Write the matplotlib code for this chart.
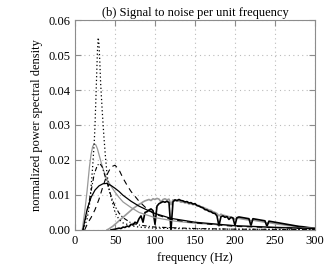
import matplotlib
matplotlib.use('Agg')
import matplotlib.pyplot as plt

plt.rcParams.update({'font.family': ['Liberation Serif', 'DejaVu Serif'], 'font.size': 9,
                     'figure.facecolor': 'white', 'axes.facecolor': 'white'})
FRAME = '#8c8c8c'
GREY = '#999999'

# smooth model spectra
dot_f = [10, 15, 18, 20, 22, 24, 25, 26, 27, 28, 29, 30, 31, 32, 34, 36, 38, 40, 43, 46,
         50, 55, 60, 70, 80, 100, 150, 200, 300]
dot_v = [0, 0.003, 0.007, 0.012, 0.018, 0.025, 0.030, 0.037, 0.044, 0.051, 0.055, 0.053,
         0.048, 0.042, 0.034, 0.027, 0.021, 0.016, 0.011, 0.0085, 0.005, 0.003, 0.002,
         0.0012, 0.0008, 0.0005, 0.0003, 0.0002, 0.0001]

grey_f = [9, 12, 15, 18, 20, 22, 24, 26, 28, 30, 33, 36, 40, 45, 50, 55, 60, 70, 80, 100,
          125, 150, 200, 250, 300]
grey_v = [0, 0.005, 0.011, 0.018, 0.0215, 0.0238, 0.0246, 0.0243, 0.0232, 0.0215, 0.019,
          0.0168, 0.0145, 0.0125, 0.0108, 0.0093, 0.008, 0.0064, 0.005, 0.0035, 0.0025,
          0.0019, 0.0012, 0.0008, 0.0005]

solid_f = [10, 12, 15, 20, 25, 30, 35, 40, 45, 50, 55, 60, 70, 80, 90, 100, 120, 150, 200,
           250, 300]
solid_v = [0, 0.0025, 0.0058, 0.0093, 0.0114, 0.0126, 0.0132, 0.0133, 0.0127, 0.0119,
           0.011, 0.0099, 0.0082, 0.0068, 0.0057, 0.0047, 0.0033, 0.0022, 0.0012, 0.0007,
           0.0004]

dash_f = [12, 16, 20, 25, 30, 35, 40, 45, 50, 55, 60, 65, 70, 80, 90, 100, 120, 150, 200, 300]
dash_v = [0, 0.002, 0.0035, 0.0058, 0.0088, 0.0125, 0.0158, 0.018, 0.0185, 0.0172, 0.0148,
          0.0128, 0.011, 0.0082, 0.006, 0.0045, 0.003, 0.002, 0.001, 0.0003]

dashdot_f = [10, 15, 20, 24, 28, 31, 34, 38, 42, 46, 50, 55, 60, 70, 80, 100, 150, 200, 300]
dashdot_v = [0, 0.005, 0.011, 0.016, 0.0185, 0.019, 0.018, 0.015, 0.012, 0.009, 0.0068,
             0.0048, 0.0035, 0.002, 0.0014, 0.0008, 0.0004, 0.0002, 0.0001]

# measured spectra (grey and black, noisy)
gnoise_f = [40, 42.5, 45, 47.5, 50, 52.5, 55, 57.5, 60, 62.5, 65, 67.5, 70, 72.5, 75, 77.5,
            80, 82.5, 85, 87.5, 90, 92.5, 95, 97.5, 100, 102.5, 105, 107.5, 110, 112.5, 115,
            117.5, 120, 122.5, 125, 127.5, 130, 132.5, 135, 137.5, 140, 142.5, 145, 147.5,
            150, 152.5, 155, 157.5, 160, 162.5, 165, 167.5, 170, 172.5, 175, 177.5, 180,
            182.5, 185, 187.5, 190, 192.5, 195, 197.5, 200, 202.5, 205, 207.5, 210, 212.5,
            215, 217.5, 220, 222.5, 225, 227.5, 230, 232.5, 235, 237.5, 240, 242.5, 245,
            247.5, 250, 255, 260, 265, 270, 275, 280, 285, 290, 295, 300]
gnoise_v = [0, 0.0003, 0.0007, 0.0011, 0.0016, 0.0021, 0.0026, 0.0031, 0.0036, 0.0041,
            0.0046, 0.0051, 0.0056, 0.0061, 0.0065, 0.0069, 0.0073, 0.0076, 0.0080, 0.0083,
            0.0085, 0.0087, 0.0084, 0.0089, 0.0087, 0.0090, 0.0088, 0.0080, 0.0087, 0.0089,
            0.0086, 0.0088, 0.0072, 0.0086, 0.0084, 0.0082, 0.0083, 0.0079, 0.0080, 0.0077,
            0.0078, 0.0074, 0.0075, 0.0072, 0.0073, 0.0069, 0.0070, 0.0066, 0.0065, 0.0062,
            0.0060, 0.0057, 0.0056, 0.0052, 0.0050, 0.0047, 0.0040, 0.0045, 0.0042, 0.0041,
            0.0039, 0.0038, 0.0036, 0.0035, 0.0030, 0.0034, 0.0033, 0.0032, 0.0031, 0.0030,
            0.0029, 0.0029, 0.0026, 0.0028, 0.0027, 0.0026, 0.0025, 0.0024, 0.0023, 0.0022,
            0.0019, 0.0021, 0.0020, 0.0019, 0.0018, 0.0016, 0.0015, 0.0013, 0.0012, 0.0010,
            0.0009, 0.0008, 0.0007, 0.0005, 0.0004]

bnoise_f = [45, 50, 55, 57.5, 60, 62.5, 65, 67.5, 70, 72.5, 75, 77.5, 80, 82.5, 85, 87.5, 90,
            92.5, 95, 97.5, 100, 102.5, 105, 107.5, 110, 112.5, 115, 117.5, 120, 122.5, 125,
            127.5, 130, 132.5, 135, 137.5, 140, 142.5, 145, 147.5, 150, 152.5, 155, 157.5,
            160, 162.5, 165, 167.5, 170, 172.5, 175, 177.5, 180, 182.5, 185, 187.5, 190,
            192.5, 195, 197.5, 200, 202.5, 205, 207.5, 210, 212.5, 215, 217.5, 220, 222.5,
            225, 227.5, 230, 232.5, 235, 237.5, 240, 242.5, 245, 250, 255, 260, 265, 270,
            275, 280, 285, 290, 295, 300]
bnoise_v = [0, 0.0002, 0.0005, 0.0004, 0.0008, 0.0007, 0.0011, 0.0009, 0.0016, 0.0014,
            0.0022, 0.0019, 0.0032, 0.0040, 0.0022, 0.0050, 0.0052, 0.0057, 0.0060, 0.0055,
            0.0016, 0.0068, 0.0075, 0.0078, 0.0081, 0.0079, 0.0082, 0.0078, 0.0, 0.0080,
            0.0086, 0.0084, 0.0087, 0.0084, 0.0083, 0.0080, 0.0081, 0.0077, 0.0078, 0.0074,
            0.0075, 0.0070, 0.0068, 0.0065, 0.0063, 0.0058, 0.0057, 0.0053, 0.0052, 0.0048,
            0.0047, 0.0040, 0.0012, 0.0038, 0.0040, 0.0036, 0.0038, 0.0030, 0.0036, 0.0034,
            0.0013, 0.0035, 0.0037, 0.0036, 0.0035, 0.0034, 0.0033, 0.0032, 0.0012, 0.0032,
            0.0031, 0.0030, 0.0029, 0.0028, 0.0027, 0.0026, 0.0010, 0.0025, 0.0024, 0.0022,
            0.0020, 0.0018, 0.0016, 0.0014, 0.0012, 0.0010, 0.0009, 0.0007, 0.0006, 0.0005]

fig = plt.figure(figsize=(3.35, 2.75), dpi=100)
ax = fig.add_axes([0.224, 0.164, 0.716, 0.763])

ax.plot(gnoise_f, gnoise_v, color=GREY, lw=1.2)
ax.plot(bnoise_f, bnoise_v, color='black', lw=1.2)
ax.plot(grey_f, grey_v, color=GREY, lw=0.9)
ax.plot(solid_f, solid_v, color='black', lw=0.9)
ax.plot(dash_f, dash_v, color='black', lw=0.8, ls=(0, (5, 4)))
ax.plot(dashdot_f, dashdot_v, color='black', lw=0.8, ls=(0, (4, 2, 1, 2)))
ax.plot(dot_f, dot_v, color='black', lw=0.9, ls=(0, (1, 2)))

ax.set_xlim(0, 300)
ax.set_ylim(0, 0.06)
ax.set_xticks([0, 50, 100, 150, 200, 250, 300])
ax.set_yticks([0, 0.01, 0.02, 0.03, 0.04, 0.05, 0.06])
ax.set_yticklabels(['0.00', '0.01', '0.02', '0.03', '0.04', '0.05', '0.06'])
ax.grid(True, color='#bbbbbb', ls=(0, (1, 3)), lw=0.8)
for s in ax.spines.values():
    s.set_color(FRAME)
ax.tick_params(direction='in', top=True, right=True, color=FRAME, length=4)
ax.set_title('(b) Signal to noise per unit frequency', fontsize=9, pad=3)
ax.set_xlabel('frequency (Hz)')
ax.set_ylabel('normalized power spectral density')

plt.savefig('out.png', dpi=100)
plt.close()
